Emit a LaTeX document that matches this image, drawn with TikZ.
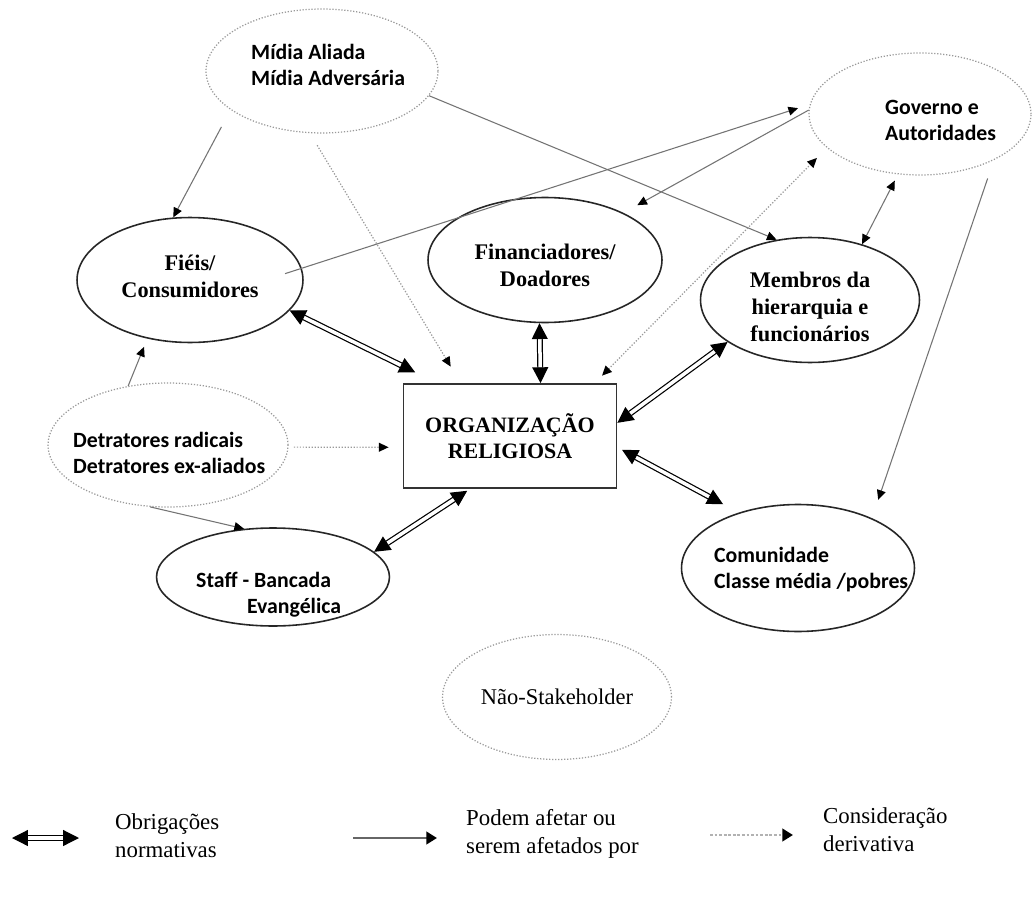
\documentclass[tikz,border=0pt]{standalone}
\usepackage{fontspec}
\setmainfont{Liberation Serif}
\newfontfamily\calibriFont{Carlito}
\usetikzlibrary{arrows.meta,shapes.geometric}
\newcommand{\pxSize}{0.02cm}
\newcommand{\sansLabel}{\calibriFont\bfseries\fontsize{12.4}{14.8}\selectfont}
\newcommand{\serifLabel}{\bfseries\fontsize{12.7}{15.4}\selectfont}
\newcommand{\legendLabel}{\fontsize{13}{16}\selectfont}

\begin{document}
\begin{tikzpicture}[x=\pxSize, y=-\pxSize,
  normTip/.tip={Triangle[length=9pt,width=9pt]},
  affTip/.tip={Triangle[length=5.5pt,width=5pt,color=black]},
  legTip/.tip={Triangle[length=6pt,width=7pt,color=black]},
  stake/.style={ellipse, draw=black!85, line width=0.9pt, inner sep=0pt},
  weak/.style={ellipse, draw=black!40, densely dotted, line width=0.7pt, inner sep=0pt},
  orgbox/.style={rectangle, draw=black!80, line width=1pt, minimum width=4.26cm, minimum height=2.08cm,
    font=\bfseries\fontsize{12.5}{15}\selectfont, align=center},
  sansTxt/.style={font=\sansLabel, align=left, anchor=west},
  serifTxt/.style={font=\serifLabel, align=center},
  legTxt/.style={font=\legendLabel, align=left, anchor=west},
  norm/.style={line width=0.7pt, double=white, double distance=2pt, arrows={normTip-normTip}},
  affect/.style={draw=black!55, line width=0.6pt, arrows={-affTip}},
  mutual/.style={draw=black!55, line width=0.6pt, arrows={affTip-affTip}},
  deriv/.style={draw=black!40, densely dotted, line width=0.7pt, arrows={-affTip}},
  derivBoth/.style={draw=black!40, densely dotted, line width=0.7pt, arrows={affTip-affTip}}]
\fill[white] (0,0) rectangle (1035,899);
\useasboundingbox (0,0) rectangle (1035,899);

\node[weak, minimum width=4.64cm, minimum height=2.48cm] (midia) at (322,71) {};
\node[sansTxt] (midiaTxt) at (245,65) {Mídia Aliada\\Mídia Adversária};
\node[weak, minimum width=4.44cm, minimum height=2.44cm] (governo) at (920,114) {};
\node[sansTxt] (governoTxt) at (879,120) {Governo e\\Autoridades};
\node[stake, minimum width=4.52cm, minimum height=2.5cm] (fieis) at (190,280) {};
\node[serifTxt] (fieisTxt) at (190,276) {Fiéis/\\Consumidores};
\node[stake, minimum width=4.68cm, minimum height=2.5cm] (financ) at (545,260) {};
\node[serifTxt] (financTxt) at (545,265) {Financiadores/\\Doadores};
\node[stake, minimum width=4.38cm, minimum height=2.5cm] (membros) at (810,300) {};
\node[serifTxt] (membrosTxt) at (810,307) {Membros da\\hierarquia e\\funcionários};
\node[orgbox] (org) at (510,436) {ORGANIZAÇÃO\\RELIGIOSA};
\node[weak, minimum width=4.8cm, minimum height=2.48cm] (detrat) at (168,445) {};
\node[sansTxt] (detratTxt) at (67,453) {Detratores radicais\\Detratores ex-aliados};
\node[stake, minimum width=4.66cm, minimum height=1.96cm] (staff) at (273,577) {};
\node[sansTxt] (staffTxt) at (190,595) {Staff - Bancada\\\hspace*{29pt}Evangélica};
\node[stake, minimum width=4.66cm, minimum height=2.54cm] (comunidade) at (798,568) {};
\node[sansTxt] (comunidadeTxt) at (708,570) {Comunidade\\Classe média /pobres};
\node[weak, minimum width=4.58cm, minimum height=2.5cm, font=\fontsize{12.8}{15}\selectfont] (nao) at (557,697) {Não-Stakeholder};

\draw[affect, shorten <=11pt] (midia.203) -- (fieis.105);
\draw[deriv, shorten <=8pt, shorten >=11pt] (midia.259) -- (org.133);
\draw[affect] (midia.347) -- (membros.119);
\draw[affect, shorten <=-10pt, shorten >=7pt] (fieis.6) -- (governo.175);
\draw[affect, shorten >=9pt] (governo.178) -- (financ.31);
\draw[derivBoth, shorten <=6pt, shorten >=8pt] (org.32) -- (governo.200);
\draw[mutual, shorten <=4pt] (governo.250) -- (membros.47);
\draw[affect, shorten <=11pt, shorten >=11pt] (governo.328) -- (comunidade.34);
\draw[affect, shorten >=5pt] (detrat.124) -- (fieis.234);
\draw[deriv, shorten <=3pt, shorten >=8pt] (detrat.359) -- (org.186);
\draw[affect] (detrat.254) -- (staff.121);

\draw[norm, shorten >=14pt] (fieis.343) -- (org.144);
\draw[norm] (financ.265) -- (org.60);
\draw[norm] (membros.207) -- (org.7);
\draw[norm, shorten <=3pt, shorten >=10pt] (org.354) -- (comunidade.137);
\draw[norm, shorten <=2pt] (org.233) -- (staff.14);

\coordinate (legNormL) at (12,838);
\coordinate (legNormR) at (79,838);
\coordinate (legAffL) at (353,838);
\coordinate (legAffR) at (437,838);
\coordinate (legDerL) at (710,835);
\coordinate (legDerR) at (793,835);
\draw[norm] (legNormL) -- (legNormR);
\draw[draw=black!60, line width=1.6pt, arrows={-legTip}] (legAffL) -- (legAffR);
\draw[draw=black!30, densely dotted, line width=1.6pt, arrows={-legTip}] (legDerL) -- (legDerR);
\node[legTxt] (legNormTxt) at (109,836) {Obrigações\\normativas};
\node[legTxt] (legAffTxt) at (460,834) {Podem afetar ou\\serem afetados por};
\node[legTxt] (legDerTxt) at (817,830) {Consideração\\derivativa};
\end{tikzpicture}
\end{document}
